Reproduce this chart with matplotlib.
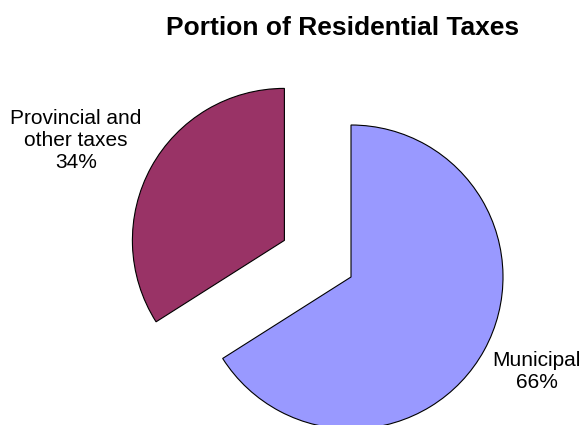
from matplotlib import pyplot as plt

# data
categories = ["Municipal", "Provincial and\nother taxes"]
shares = [66, 34]
explode_amt = [0, 0.5]
colors = ["#9999FF", "#993366"]

plt.rcParams['font.family'] = ['Liberation Sans', 'DejaVu Sans']

fig = plt.figure(figsize=(5.85, 4.25), dpi=100)
ax = fig.add_axes([0, 0, 1, 1])

wedges, _ = ax.pie(shares, explode=explode_amt, colors=colors,
                   startangle=90, counterclock=False, radius=1.0,
                   wedgeprops=dict(edgecolor="black", linewidth=0.8))

# pie centre at (351, 277) px, radius 152 px
cx, cy, r = 351, 277, 152
ax.set_xlim(-cx / r, (585 - cx) / r)
ax.set_ylim(-(425 - cy) / r, cy / r)
ax.set_aspect('auto')
ax.axis('off')

# labels next to each slice
label_pos = [(1.22, -0.625), (-1.809, 0.895)]
for name, val, (lx, ly) in zip(categories, shares, label_pos):
    ax.text(lx, ly, f"{name}\n{val}%", ha='center', va='center',
            fontsize=15, linespacing=1.2)

fig.text(343 / 585, 1 - 35 / 425, "Portion of Residential Taxes",
         ha='center', va='baseline', fontsize=19, fontweight='bold')

fig.savefig("out.png", dpi=100)
